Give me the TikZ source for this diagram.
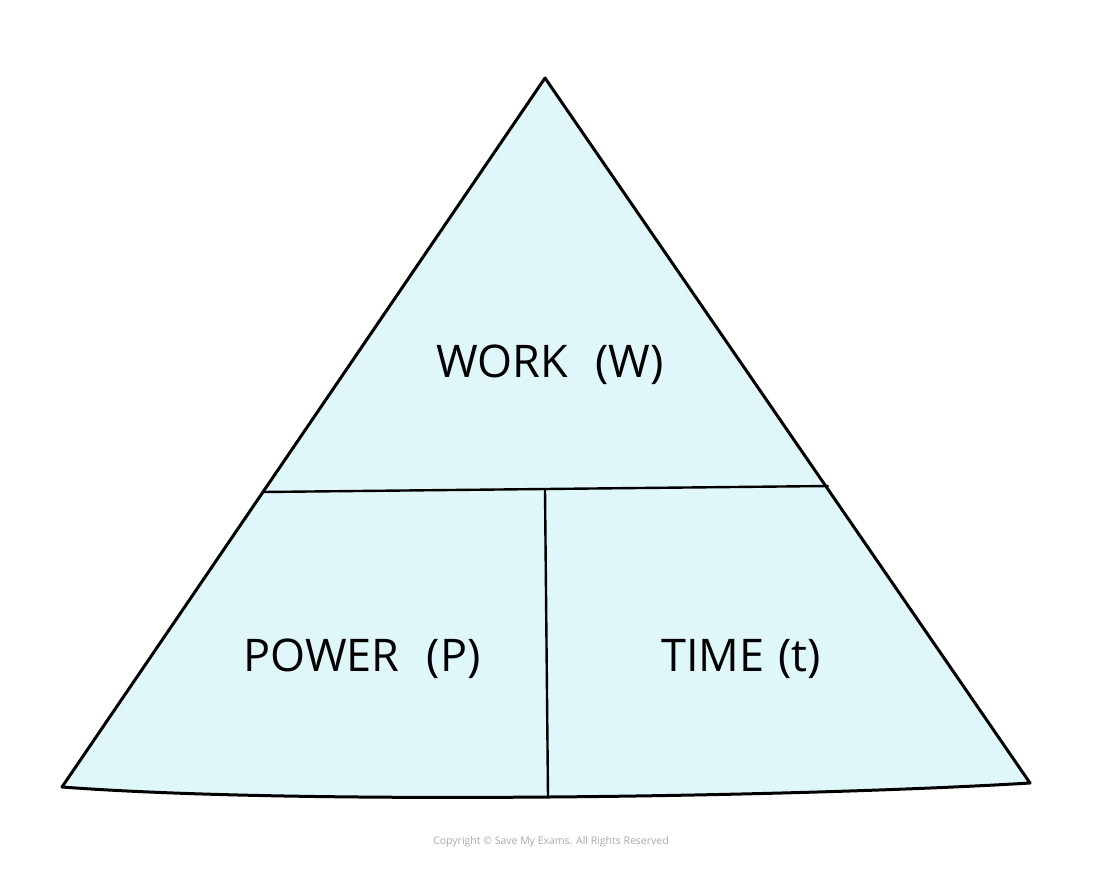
\documentclass[tikz,border=0pt]{standalone}
\usepackage{fontspec}
\setmainfont{Open Sans}
\definecolor{fillc}{HTML}{E0F7FA}
\definecolor{copyc}{HTML}{A8A8A8}
\begin{document}
\begin{tikzpicture}[x=1pt,y=-1pt,
  edge/.style={draw=black,line width=3pt,line join=round,line cap=round},
  label/.style={font=\fontsize{45}{50}\selectfont,inner sep=0pt,anchor=center},
  copy/.style={font=\fontsize{10.5}{12}\selectfont,text=copyc,inner sep=0pt}]
\useasboundingbox (0,0) rectangle (1100,872);
\coordinate (A) at (545,78);
\coordinate (BL) at (62,787);
\coordinate (BR) at (1030,783);
\coordinate (HL) at (263,492);
\coordinate (HR) at (828,486);
\coordinate (VT) at (545,490);
\coordinate (VB) at (548,797);
\fill[fillc] (A) -- (BR) .. controls (800,797) and (300,805) .. (BL) -- cycle;
\draw[edge] (A) -- (BR) .. controls (800,797) and (300,805) .. (BL) -- cycle;
\draw[edge,line width=2.4pt] (HL) -- (HR);
\draw[edge,line width=2.4pt] (VT) -- (VB);
\node[label] (work) at (550,365) {WORK\hspace{0.6em}(W)};
\node[label] (power) at (362,659) {POWER\hspace{0.6em}(P)};
\node[label] (time) at (741,659) {TIME\hspace{0.3em}(t)};
\node[copy] (cr) at (551,842) {Copyright © Save My Exams. All Rights Reserved};
\end{tikzpicture}
\end{document}
